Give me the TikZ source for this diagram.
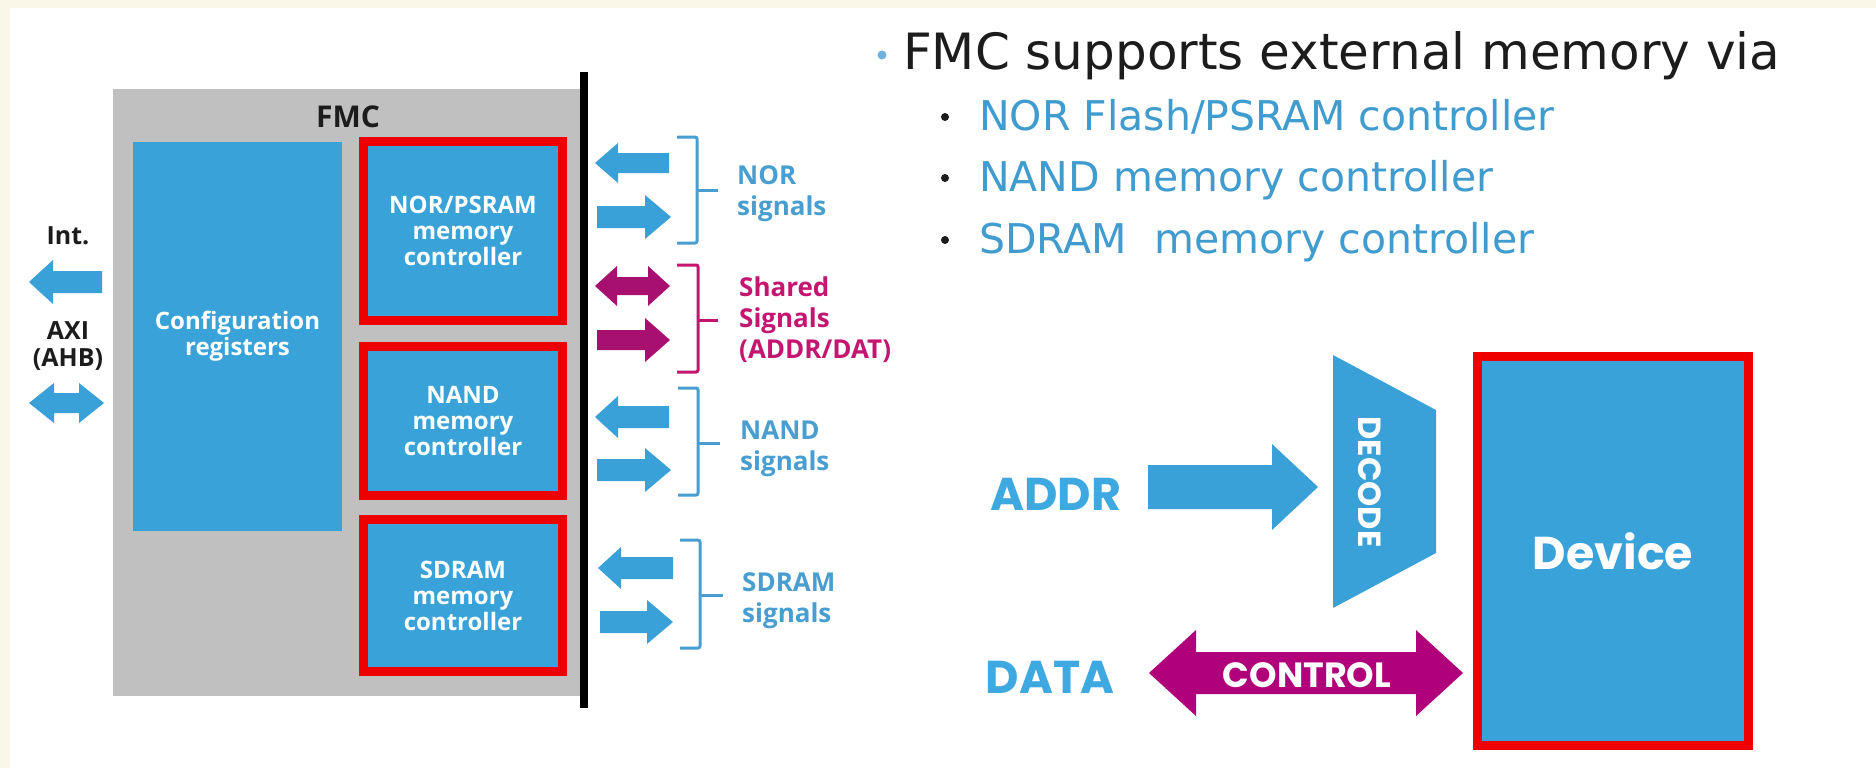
\documentclass[tikz,border=0pt]{standalone}
\usepackage{fontspec}
\setmainfont{Open Sans}
\newfontfamily\bulletfont{DejaVu Sans}
\newfontfamily\geofont{Poppins}

\definecolor{cream}{RGB}{250,246,232}
\definecolor{fmcgray}{RGB}{192,192,192}
\definecolor{boxblue}{RGB}{57,163,217}
\definecolor{framered}{RGB}{238,0,0}
\definecolor{arrowblue}{RGB}{58,160,216}
\definecolor{sharedmag}{RGB}{168,16,112}
\definecolor{ctrlmag}{RGB}{176,0,122}
\definecolor{sigblue}{RGB}{72,158,208}
\definecolor{sigmag}{RGB}{196,22,112}
\definecolor{addrblue}{RGB}{62,168,224}
\definecolor{itemblue}{RGB}{64,156,206}
\definecolor{dotblue}{RGB}{110,176,222}
\definecolor{ink}{RGB}{28,28,28}

% block arrow: style, tail x, tip x, y, shaft half, head half, signed head length
\newcommand\blockarrow[7]{\fill[#1] (#2,{#4-#5}) -- ({#3-#7},{#4-#5}) -- ({#3-#7},{#4-#6}) -- (#3,#4) -- ({#3-#7},{#4+#6}) -- ({#3-#7},{#4+#5}) -- (#2,{#4+#5}) -- cycle;}
% double block arrow: style, left tip, right tip, y, shaft half, head half, head length
\newcommand\dblarrow[7]{\fill[#1] (#2,#4) -- ({#2+#7},{#4-#6}) -- ({#2+#7},{#4-#5}) -- ({#3-#7},{#4-#5}) -- ({#3-#7},{#4-#6}) -- (#3,#4) -- ({#3-#7},{#4+#6}) -- ({#3-#7},{#4+#5}) -- ({#2+#7},{#4+#5}) -- ({#2+#7},{#4+#6}) -- cycle;}

\tikzset{
  boxlabel/.style={font=\bfseries\fontsize{24}{26}\selectfont, text=white, align=center, inner sep=0pt},
  cfgbox/.style={fill=boxblue, boxlabel, minimum width=209pt, minimum height=389pt},
  ctrlbox/.style={fill=boxblue, draw=framered, line width=9pt, boxlabel, minimum width=199pt},
  sidelbl/.style={font=\bfseries\fontsize{25}{27}\selectfont, text=ink, inner sep=0pt, align=center},
  siglbl/.style={font=\bfseries\fontsize{26}{31}\selectfont, align=left, anchor=west, inner sep=0pt},
  bracketline/.style={line width=3pt, rounded corners=2pt},
  geolbl/.style={font=\geofont\bfseries\fontsize{46}{50}\selectfont, inner sep=0pt},
  headtext/.style={font=\bulletfont\fontsize{50}{60}\selectfont, text=ink, anchor=base west, inner sep=0pt},
  itemtext/.style={font=\bulletfont\fontsize{41}{48}\selectfont, text=itemblue, anchor=base west, inner sep=0pt},
  itemdot/.style={fill=ink},
}

\begin{document}
\begin{tikzpicture}[x=1pt,y=-1pt]
\useasboundingbox (0,0) rectangle (1876,768);
% page background with its cream edge
\fill[cream] (0,0) rectangle (1876,768);
\fill[white] (10,8) rectangle (1880,772);

% ---- FMC block ----
\fill[fmcgray] (113,89) rectangle (584,696);
\node[sidelbl, font=\bfseries\fontsize{30}{32}\selectfont] (fmc) at (348,117) {FMC};
\node[cfgbox] (cfg) at (237.5,336.5) {Configuration\\registers};
\node[ctrlbox, minimum height=179pt] (nor) at (463,231) {NOR/PSRAM\\memory\\controller};
\node[ctrlbox, minimum height=149pt] (nand) at (463,421) {NAND\\memory\\controller};
\node[ctrlbox, minimum height=152pt] (sdram) at (463,595.5) {SDRAM\\memory\\controller};
\draw[line width=8pt] (584,72) coordinate (bustop) -- (584,708) coordinate (busbot);

% ---- system side ----
\node[sidelbl] (int) at (68,236) {Int.};
\node[sidelbl] (axi) at (68,346) {AXI\\(AHB)};
\blockarrow{arrowblue}{102}{29}{282}{11}{22}{-24}
\dblarrow{arrowblue}{29}{104}{403}{10}{20}{25}

% ---- memory side signals ----
\blockarrow{arrowblue}{669}{595}{163}{10}{20}{-23}
\blockarrow{arrowblue}{597}{671}{217}{11}{22}{26}
\draw[bracketline, sigblue] (677,137) -- (697,137) -- (697,243) -- (677,243);
\draw[line width=3pt, sigblue] (697,190) -- (718,190);
\node[siglbl, text=sigblue] (norsig) at (737,194) {NOR\\signals};

\dblarrow{sharedmag}{595}{670}{286}{9}{20}{22}
\blockarrow{sharedmag}{597}{670}{340}{10}{22}{25}
\draw[bracketline, sigmag] (677,265) -- (698,265) -- (698,372) -- (677,372);
\draw[line width=3pt, sigmag] (698,320) -- (718,320);
\node[siglbl, text=sigmag] (shsig) at (739,320) {Shared\\Signals\\(ADDR/DAT)};

\blockarrow{arrowblue}{669}{595}{417}{11}{21}{-23}
\blockarrow{arrowblue}{597}{671}{470}{11}{22}{26}
\draw[bracketline, sigblue] (678,388) -- (698,388) -- (698,495) -- (678,495);
\draw[line width=3pt, sigblue] (698,443) -- (720,443);
\node[siglbl, text=sigblue] (nandsig) at (740,449) {NAND\\signals};

\blockarrow{arrowblue}{673}{598}{568}{11}{21}{-23}
\blockarrow{arrowblue}{600}{673}{622}{11}{22}{26}
\draw[bracketline, sigblue] (680,540) -- (700,540) -- (700,648) -- (680,648);
\draw[line width=3pt, sigblue] (700,595) -- (723,595);
\node[siglbl, text=sigblue] (sdramsig) at (742,601) {SDRAM\\signals};

% ---- bullet list ----
\fill[dotblue] (882,55) circle (4.5);
\node[headtext] (head) at (903,70) {FMC supports external memory via};
\fill[itemdot] (945,117) circle (4);
\node[itemtext] (item1) at (979,130) {NOR Flash/PSRAM controller};
\fill[itemdot] (945,178) circle (4);
\node[itemtext] (item2) at (979,191) {NAND memory controller};
\fill[itemdot] (945,240) circle (4);
\node[itemtext] (item3) at (979,253) {SDRAM\hspace{0.35em} memory controller};

% ---- device access ----
\node[geolbl, text=addrblue] (addr) at (1056,494) {ADDR};
\node[geolbl, text=addrblue] (data) at (1050,677) {DATA};
\blockarrow{arrowblue}{1148}{1318}{487}{22}{43}{46}
\fill[arrowblue] (1333,355) -- (1436,410) -- (1436,553) -- (1333,608) -- cycle;
\node[geolbl, font=\geofont\bfseries\fontsize{32}{34}\selectfont, text=white, rotate=-90] (decode) at (1370,482) {DECODE};
\dblarrow{ctrlmag}{1149}{1463}{673}{21}{43}{47}
\node[geolbl, font=\geofont\bfseries\fontsize{35}{37}\selectfont, text=white] (control) at (1307,675) {CONTROL};
\node[fill=boxblue, draw=framered, line width=9pt, minimum width=271pt, minimum height=389pt,
      geolbl, text=white] (device) at (1613,551) {Device};
\end{tikzpicture}
\end{document}
